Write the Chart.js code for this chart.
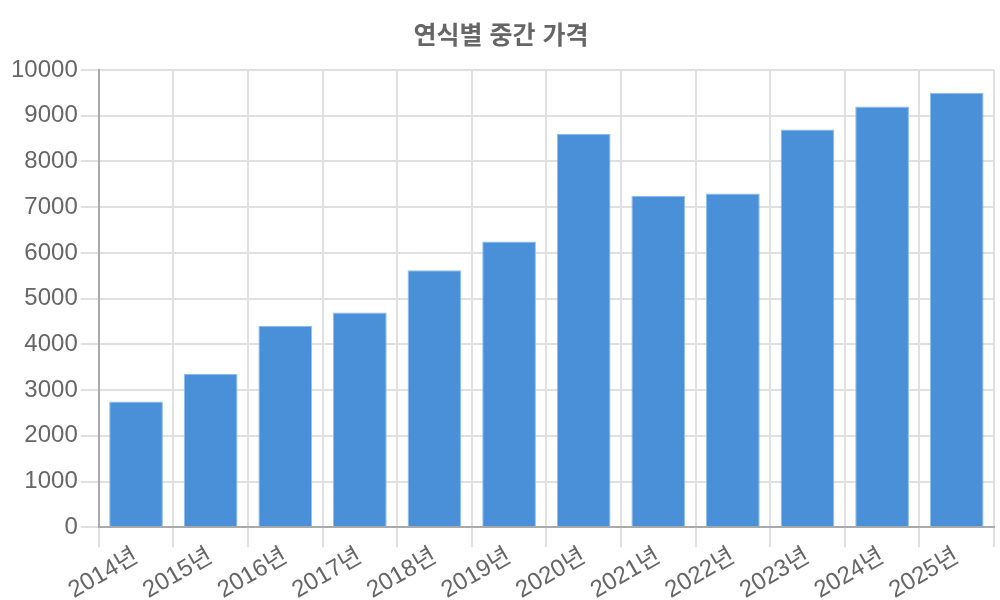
<!DOCTYPE html>
<html>
<head>
<meta charset="utf-8">
<script src="https://cdn.jsdelivr.net/npm/chart.js@4"></script>
<style>
  html, body { margin: 0; padding: 0; background: #fff; }
  #wrap { width: 1000px; height: 600px; }
</style>
</head>
<body>
<div id="wrap"><canvas id="chart"></canvas></div>
<script>
const years = ["2014년", "2015년", "2016년", "2017년", "2018년", "2019년",
  "2020년", "2021년", "2022년", "2023년", "2024년", "2025년"];
const medianPrice = [2750, 3350, 4400, 4700, 5620, 6250, 8600, 7250, 7300, 8700, 9200, 9500];

Chart.defaults.font.family = "'Liberation Sans', 'Noto Sans CJK KR', sans-serif";
Chart.defaults.color = "#666";

new Chart(document.getElementById("chart").getContext("2d"), {
  type: "bar",
  data: {
    labels: years,
    datasets: [{
      label: "중간 가격",
      data: medianPrice,
      backgroundColor: "#4a90d9",
      borderColor: "#8dbcf0",
      borderWidth: 1,
    }],
  },
  options: {
    responsive: true,
    maintainAspectRatio: false,
    animation: false,
    layout: { padding: { left: 8, right: 6, top: 0, bottom: 0 } },
    plugins: {
      legend: { display: false },
      title: {
        display: true,
        text: "연식별 중간 가격",
        font: { size: 25, weight: "bold" },
        color: "#666",
        padding: { top: 22, bottom: 18 },
      },
    },
    scales: {
      x: {
        grid: { color: "#e0e0e0", lineWidth: 2, tickLength: 20 },
        border: { color: "#aaa", width: 2 },
        ticks: { font: { size: 24 }, minRotation: 30, maxRotation: 30, color: "#666", padding: -5 },
      },
      y: {
        min: 0,
        max: 10000,
        grid: { color: "#e0e0e0", lineWidth: 2, tickLength: 18 },
        border: { color: "#aaa", width: 2 },
        ticks: {
          stepSize: 1000,
          font: { size: 24 },
          color: "#666",
          padding: 3,
          callback: (v) => String(v),
        },
      },
    },
  },
});
</script>
</body>
</html>
